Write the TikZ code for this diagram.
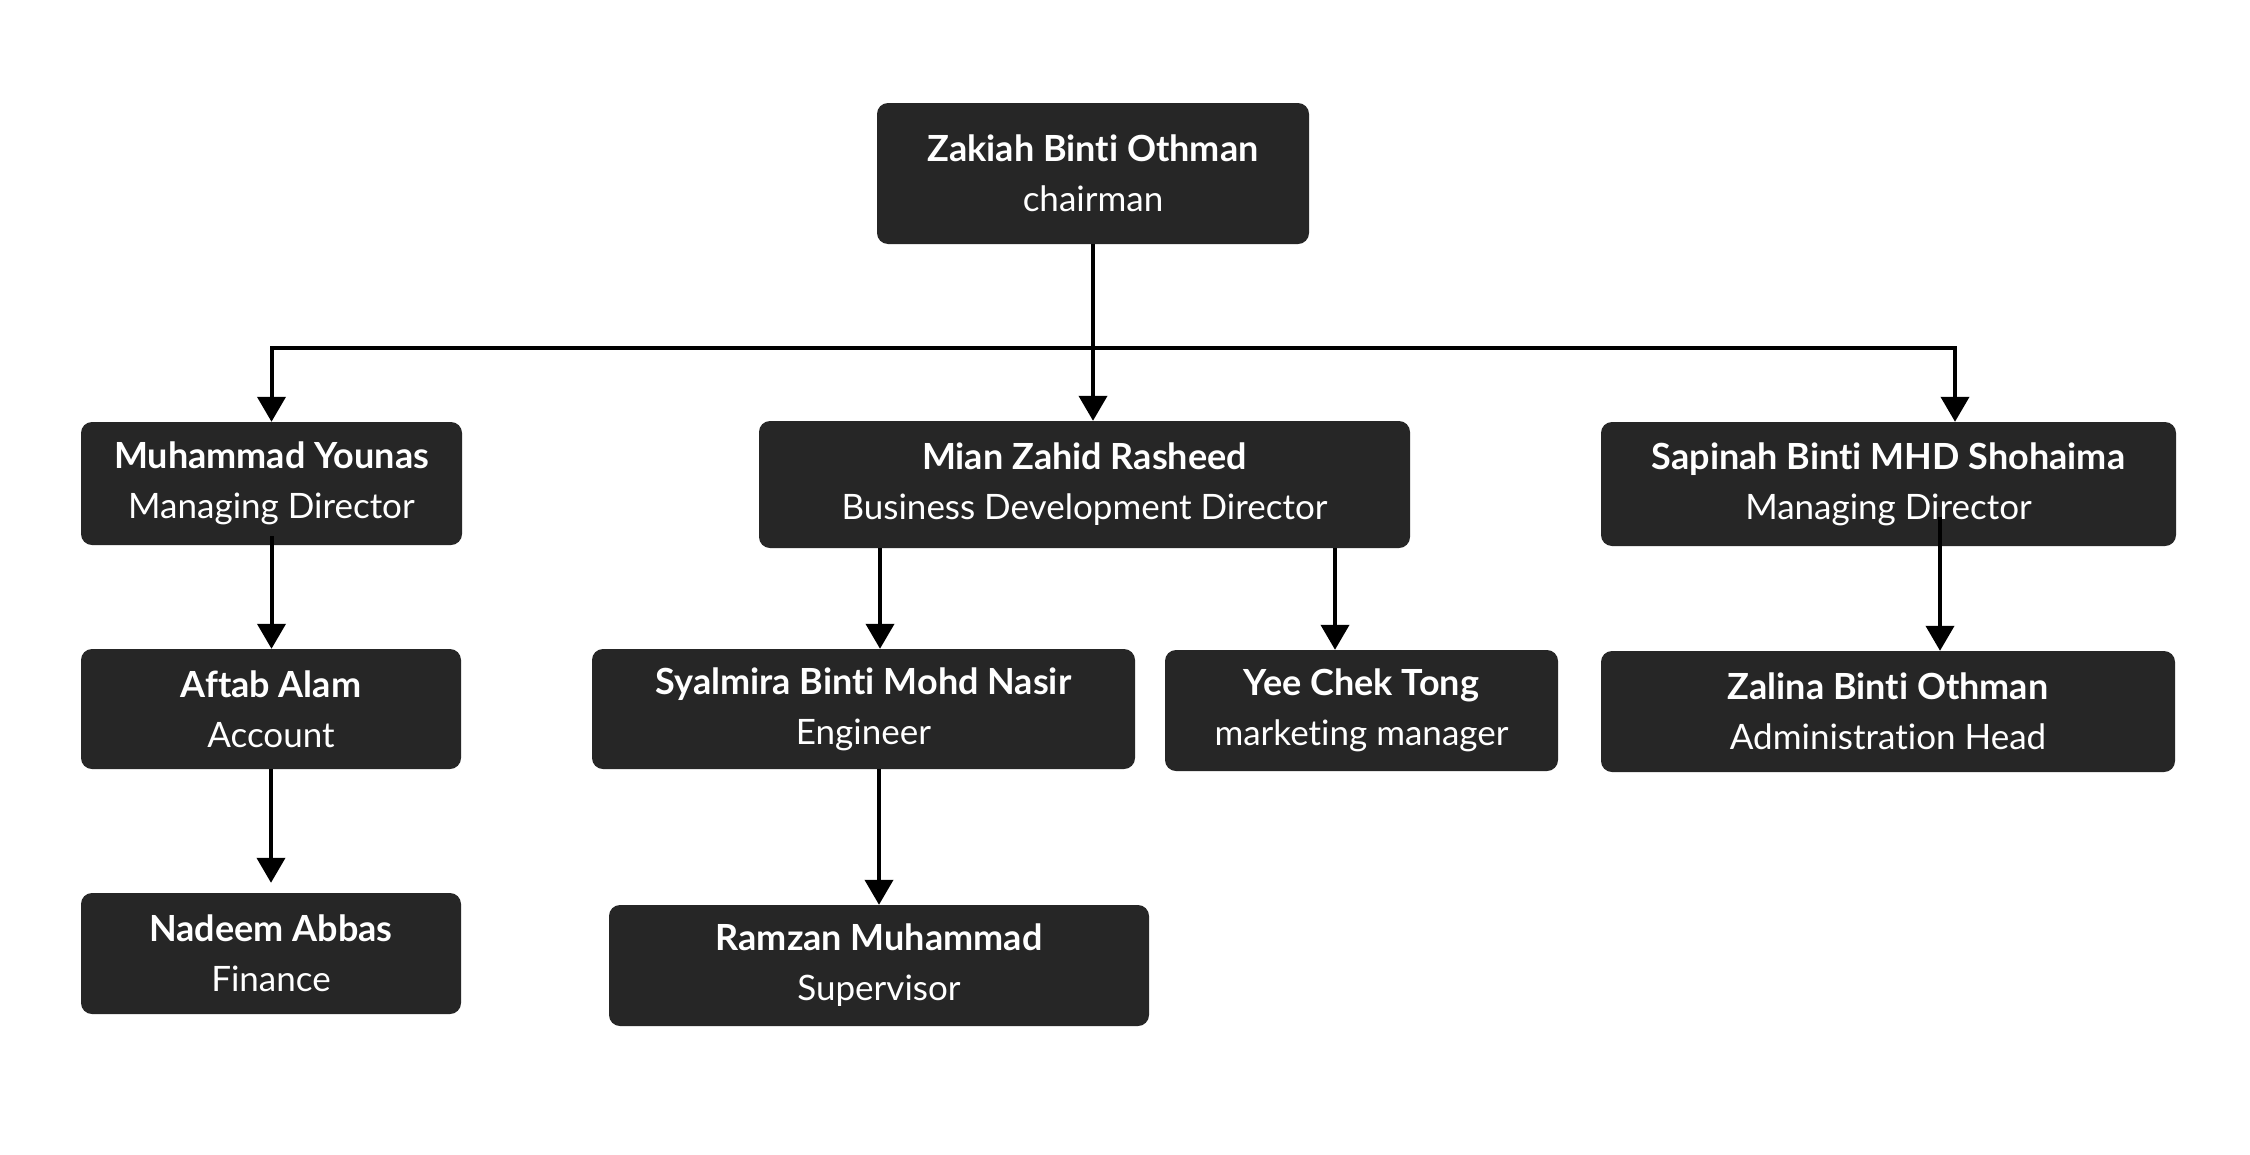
\documentclass[tikz,border=0pt]{standalone}
\usepackage{fontspec}
\setmainfont{Lato}[Ligatures=NoCommon,RawFeature={-liga;-dlig}]
\usetikzlibrary{arrows.meta}
\definecolor{boxc}{HTML}{262626}
\newcommand{\pname}[1]{{\fontsize{36}{50}\selectfont\bfseries #1}}
\begin{document}
\begin{tikzpicture}[x=1pt,y=-1pt,
  person/.style={fill=boxc, rounded corners=11pt, text=white, align=center, inner sep=0pt,
    font=\fontsize{35}{50}\selectfont},
  link/.style={line width=4pt, -{Triangle[width=28pt,length=25pt]}}]
\useasboundingbox[fill=white] (0,0) rectangle (2250,1154);
% boxes
\node[person, minimum width=432pt, minimum height=141pt] (ch) at (1093,173.5) {\pname{Zakiah Binti Othman}\\chairman};
\node[person, minimum width=381pt, minimum height=123pt] (my) at (271.5,483.5) {\pname{Muhammad Younas}\\Managing Director};
\node[person, minimum width=651pt, minimum height=127pt] (mz) at (1084.5,484.5) {\pname{Mian Zahid Rasheed}\\Business Development Director};
\node[person, minimum width=575pt, minimum height=124pt] (sb) at (1888.5,484) {\pname{Sapinah Binti MHD Shohaima}\\Managing Director};
\node[person, minimum width=380pt, minimum height=120pt] (af) at (271,709) {\pname{Aftab Alam}\\Account};
\node[person, minimum width=543pt, minimum height=120pt] (sy) at (863.5,709) {\pname{Syalmira Binti Mohd Nasir}\\Engineer};
\node[person, minimum width=393pt, minimum height=121pt] (yc) at (1361.5,710.5) {\pname{Yee Chek Tong}\\marketing manager};
\node[person, minimum width=574pt, minimum height=121pt] (za) at (1888,711.5) {\pname{Zalina Binti Othman}\\Administration Head};
\node[person, minimum width=380pt, minimum height=121pt] (na) at (271,953.5) {\pname{Nadeem Abbas}\\Finance};
\node[person, minimum width=540pt, minimum height=121pt] (ra) at (879,965.5) {\pname{Ramzan Muhammad}\\Supervisor};
% connectors
\coordinate (bus) at (1093,348);
\coordinate (sbin) at ([xshift=66.5pt]sb.north);
\coordinate (mzl) at ([xshift=-204.5pt]mz.south);
\coordinate (mzr) at ([xshift=250.5pt]mz.south);
\coordinate (myo) at ([yshift=9pt]my.south);
\coordinate (sbo) at ([xshift=51.5pt,yshift=29pt]sb.south);
\draw[link] (ch.south) -- (ch.south |- mz.north);
\draw[link] (bus) -| (my.north);
\draw[link] (bus) -| (sbin);
\draw[link] (myo) -- (myo |- af.north);
\draw[link] (af.south) -- ([yshift=10pt]na.north);
\draw[link] (mzl) -- (mzl |- sy.north);
\draw[link] (mzr) -- (mzr |- yc.north);
\draw[link] (ra.north |- sy.south) -- (ra.north);
\draw[link] (sbo) -- (sbo |- za.north);
\end{tikzpicture}
\end{document}
